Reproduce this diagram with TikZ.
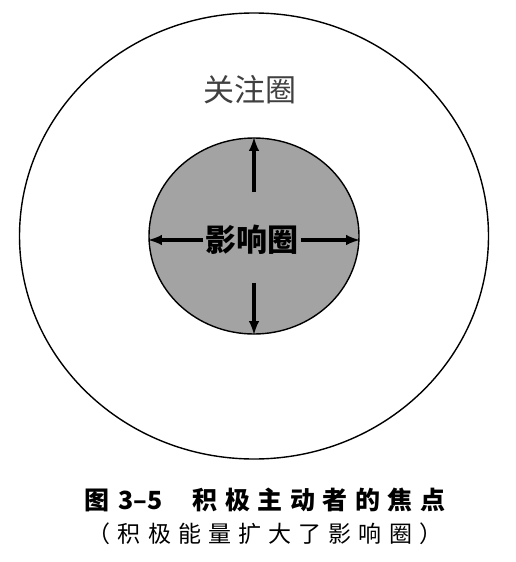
\documentclass[tikz,border=0pt]{standalone}
\usepackage{fontspec}
\setmainfont{Noto Sans CJK SC}
\newfontfamily\capfont[LetterSpace=30]{Noto Sans CJK SC}
\newfontfamily\subfont[LetterSpace=31]{Noto Sans CJK SC}
\usetikzlibrary{shapes.geometric}
\usetikzlibrary{positioning}
\usetikzlibrary{arrows}

\begin{document}
\begin{tikzpicture}[x=1pt,y=-1pt,
    ring/.style={ellipse, draw, line width=1.4pt, inner sep=0pt},
    push/.style={->, >=latex, line width=3.6pt}]
        \useasboundingbox (0,0) rectangle (516,562);
        \node[ring, minimum width=469pt, minimum height=446pt] (concern) at (254,236) {};
        \node[ring, fill=black!36, minimum width=210pt, minimum height=196pt] (influence) at (254,236) {};
        \node[text=black!75, font=\fontsize{31}{31}\selectfont] (concernlbl) at (250,90) {关注圈};
        \node[font=\bfseries\fontsize{31}{31}\selectfont, inner sep=2pt] (influencelbl) at (252,240) {影响圈};

        \draw[push] ([yshift=-55pt]influence.north) -- (influence.north);
        \draw[push] ([yshift=52pt]influence.south) -- (influence.south);
        \draw[push] (influencelbl.west) -- (influencelbl.west -| influence.west);
        \draw[push] (influencelbl.east) -- (influencelbl.east -| influence.east);

        \node[font=\bfseries\fontsize{25}{25}\selectfont] (fig) at (265,500) {图\hspace{9pt}3–5\hspace{30pt}{\capfont\bfseries 积极主动者的焦点}};
        \node[font=\subfont\fontsize{23}{23}\selectfont, below=4pt of fig] (sub) {（积极能量扩大了影响圈）};
      \end{tikzpicture}
\end{document}
